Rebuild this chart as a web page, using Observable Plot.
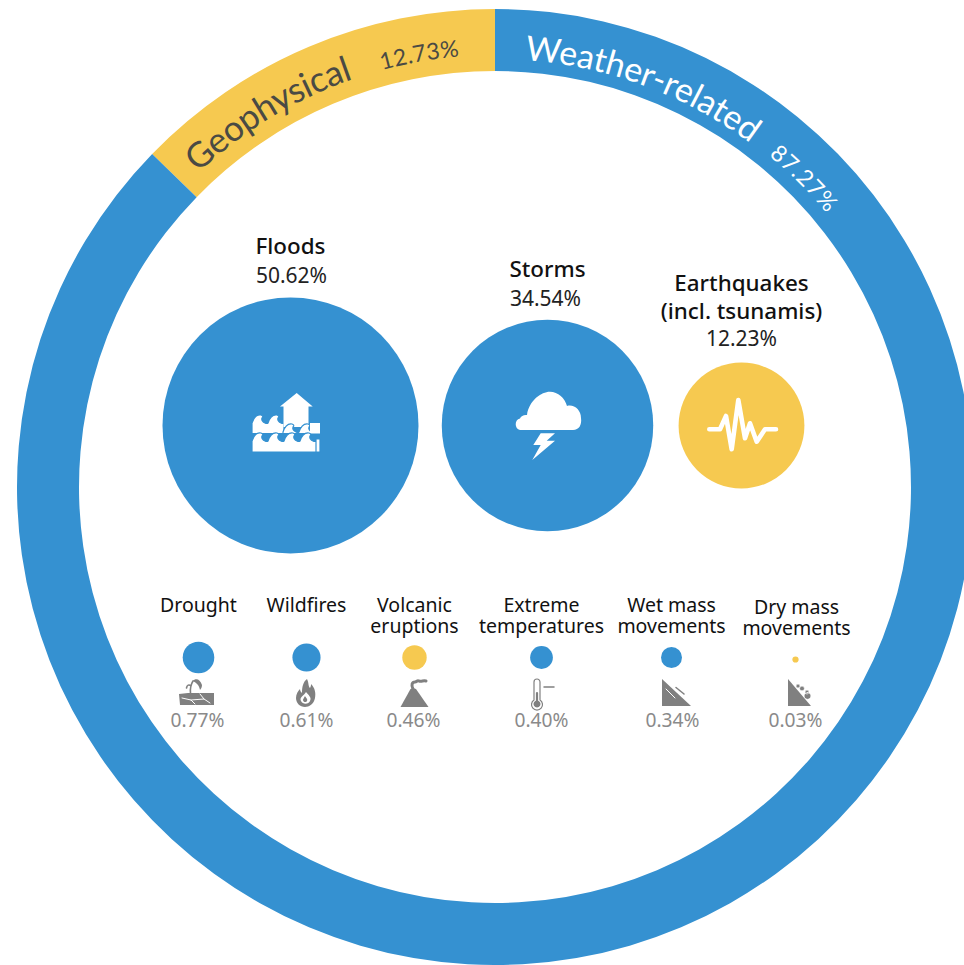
<!DOCTYPE html>
<html>
<head>
<meta charset="utf-8">
<style>html,body{margin:0;padding:0;background:#fff;overflow:hidden}svg{display:block}</style>
<script src="https://cdn.jsdelivr.net/npm/d3@7"></script>
<script src="https://cdn.jsdelivr.net/npm/@observablehq/plot@0.6"></script>
</head>
<body>
<div id="chart"></div>
<script>
// ---- data ----
const groups = ["Geophysical", "Weather-related"];
const groupShares = [12.73, 87.27];
const hazards = ["Floods","Storms","Earthquakes","Drought","Wildfires","Volcanic","Extreme","WetMass","DryMass"];
const hazardLabels = ["Floods","Storms","Earthquakes\n(incl. tsunamis)","Drought","Wildfires","Volcanic\neruptions","Extreme\ntemperatures","Wet mass\nmovements","Dry mass\nmovements"];
const hazardShares = [50.62, 34.54, 12.23, 0.77, 0.61, 0.46, 0.40, 0.34, 0.03];
const hazardGroups = ["Weather-related","Weather-related","Geophysical","Weather-related","Weather-related","Geophysical","Weather-related","Weather-related","Geophysical"];
const rows = hazards.map((id, i) => ({id, label: hazardLabels[i], share: hazardShares[i], group: hazardGroups[i], pct: hazardShares[i].toFixed(2) + "%", major: i < 3}));

// ---- layout (page positions for each hazard) ----
const colX   = d3.scaleOrdinal(hazards, [290, 547, 741, 198, 306, 414, 541, 671, 795]);
const dotY   = d3.scaleOrdinal(hazards, [425, 425, 425, 657, 657, 657, 657, 657, 659]);
const labelY = d3.scaleOrdinal(hazards, [244.5, 268, 296, 604.5, 604.5, 615, 615, 615, 617]);
const labelX = d3.scaleOrdinal(hazards, [290, 547, 741, 198, 306, 414, 541, 671, 796]);
const pctY   = d3.scaleOrdinal(hazards, [276, 299, 339, 720, 720, 720, 720, 720, 720]);
const pctX   = d3.scaleOrdinal(hazards, [291, 545, 741, 197, 306, 413, 541, 672, 795]);
const center = {x: 495, y: 487, inner: 416, outer: 478};
const colors = ["#f6c950", "#3591d1"];
const sans = "'Noto Sans', sans-serif";
const ringFont = "Lato, sans-serif";

// ---- icon glyphs, in local pixels around the hazard's column ----
function waves(x0, y0, n, bottom) {
  let p = `M${x0},${bottom}V${y0 + 4}`;
  for (let i = 0; i < n; i++) p += "q3,-9 9,-8 q3,1 1,3 q-1,3 3,5 q2,1 3,0";
  return p + `V${bottom}Z`;
}
const iconPaths = {
  Floods: [
    {d: waves(-38, -6, 2, 8.5), fill: "#fff", stroke: "#3591d1", sw: 1.2},
    {d: "M6.7,-32L22.7,-18.5H18.5V2H-6.5V-18.5H-10Z", fill: "#fff"},
    {d: waves(-7, 3, 2, 8.5), fill: "#fff", stroke: "#3591d1", sw: 1.2},
    {d: "M20,-2H30V8.5H20Z", fill: "#fff"},
    {d: waves(-38, 12, 4, 27) + "M26,14H30V27H26Z", fill: "#fff", stroke: "#3591d1", sw: 1.2}
  ],
  Storms: [
    {d: "M-27,5A6,6 0 0 1 -27,-6.5C-26,-9 -23,-10.5 -20,-10C-18,-25 -5,-33.5 3,-33.3C11,-33 18,-27 20,-19C27,-21 34,-15 34,-7C35,0 32,5 26,5Z", fill: "#fff"},
    {d: "M-6.3,8.3H8L-0.3,15.7H8L-14.7,35L-6.3,20H-13.7Z", fill: "#fff"}
  ],
  Earthquakes: [
    {d: "M-31.7,4.3H-21L-15,-9L-9.3,24.3L-2.7,-25L4,13.3L9,-1.7L15.7,16.7L24,4.3H35", stroke: "#fff", sw: 4.6, fill: "none"}
  ],
  Drought: [
    {d: "M-18,-1L-9,-2H17V10H-17Z", fill: "#808080"},
    {d: "M-15,3L-6,5L-2,9M-6,5L7,4L13,8M3,-1L7,4", stroke: "#fff", sw: 1, fill: "none"},
    {d: "M-6.5,-2C-7,-7 -6.5,-10 -4,-14M-6,-9C-8,-11 -10,-10 -10.5,-7", stroke: "#808080", sw: 1.6, fill: "none"},
    {d: "M-4.5,-14C-1,-17 3,-16 5,-10C5,-8 4,-6 3,-5C2,-10 0,-12 -4.5,-14Z", fill: "#808080"}
  ],
  Wildfires: [
    {d: "M1,-16C3,-12 2,-9 4,-7C5,-9 5,-10 5,-11C9,-7 10,-2 9,3C8,9 3,12 -1,12C-6,12 -10,8 -10,3C-10,-1 -8,-4 -6,-6C-6,-4 -5,-3 -4,-2C-4,-8 -3,-13 1,-16Z", fill: "#808080"},
    {d: "M0,-3C2,0 6,2 4,6C3,9 -3,10 -5,6C-7,2 -2,1 0,-3Z", fill: "#fff"},
    {d: "M-1,1C0,3 2,4 1,6C0,8 -3,7 -3,5C-3,4 -2,3 -1,1Z", fill: "#808080"}
  ],
  Volcanic: [
    {d: "M-13.5,12L-3.5,-6L-1,-7L2,-6L14.5,12Z", fill: "#808080"},
    {d: "M-1,-6C-3,-10 -2,-13 1,-13C3,-13 3,-15 5,-14C8,-13 9,-15 12,-14", stroke: "#808080", sw: 3, fill: "none"}
  ],
  Extreme: [
    {d: "M-7,5V-13A3,3 0 0 1 -1,-13V5A5.5,5.5 0 1 1 -7,5Z", fill: "#fff", stroke: "#808080", sw: 1.2},
    {d: "M-4,-2V8", stroke: "#808080", sw: 2.2, fill: "none"},
    {d: "M-4,5.5a3.5,3.5 0 1 0 0.01,0Z", fill: "#808080"},
    {d: "M3,-8H13", stroke: "#808080", sw: 1.5, fill: "none"}
  ],
  WetMass: [
    {d: "M-9,-16L20,11H-9Z", fill: "#808080"},
    {d: "M-5,-6L4,3", stroke: "#fff", sw: 1, fill: "none"},
    {d: "M5,-7.5L13,-1", stroke: "#808080", sw: 1.5, fill: "none"}
  ],
  DryMass: [
    {d: "M-7,-16L16,11H-7Z", fill: "#808080"},
    {d: "M3,-11a2,2 0 1 0 0.01,0ZM7,-9a2.4,2.4 0 1 0 0.01,0ZM12,-5a2,2 0 1 0 0.01,0ZM12.5,-2.5a3.4,3.4 0 1 0 0.01,0Z", fill: "#808080", stroke: "#fff", sw: 0.6}
  ]
};
const iconY = d3.scaleOrdinal(hazards, [425, 425, 425, 695, 695, 695, 695, 695, 695]);
const iconX = d3.scaleOrdinal(hazards, [290, 547, 741, 197, 306, 414, 541, 671, 795]);

// ---- ring labels along the band: angle in degrees clockwise from the top ----
const ringLabels = [
  {text: "Geophysical", angle: -43.4, r: 432, size: 35, fill: "#4a4a44", span: 24.2},
  {text: "12.73%", angle: -15.2, r: 432, size: 23, fill: "#4a4a44", span: 10.4},
  {text: "Weather-related", angle: 4, r: 428, size: 34, fill: "#fff", span: 32.6},
  {text: "87.27%", angle: 39.5, r: 430, size: 23, fill: "#fff", span: 10.9}
];

function ringMark(index, scales) {
  const g = d3.create("svg:g").attr("transform", `translate(${scales.x(center.x)},${scales.y(center.y)})`);
  const start = -2 * Math.PI * groupShares[0] / 100;
  const pie = d3.pie().sort(null).startAngle(start).endAngle(start + 2 * Math.PI)(groupShares);
  const arc = d3.arc().innerRadius(center.inner).outerRadius(center.outer);
  g.selectAll("path.band").data(pie).join("path").attr("class", "band")
    .attr("d", arc).attr("fill", (d, i) => scales.color(groups[i]));
  ringLabels.forEach((l, i) => {
    const id = "ring-path-" + i;
    g.append("path").attr("id", id).attr("fill", "none")
      .attr("d", `M0,${l.r}A${l.r},${l.r} 0 1 1 0,${-l.r}A${l.r},${l.r} 0 1 1 0,${l.r}`);
    const text = g.append("text").attr("font-family", ringFont).attr("font-size", l.size)
      .attr("fill", l.fill).attr("font-weight", 400)
      .attr("text-anchor", "start");
    text.append("textPath").attr("href", "#" + id)
      .attr("startOffset", ((l.angle + 180) / 360) * 2 * Math.PI * l.r)
      .attr("textLength", (l.span / 360) * 2 * Math.PI * l.r)
      .attr("lengthAdjust", "spacing")
      .text(l.text);
  });
  return g.node();
}

function iconMark(index, scales) {
  const g = d3.create("svg:g");
  for (const id of hazards) {
    const icon = g.append("g").attr("transform", `translate(${scales.x(iconX(id))},${scales.y(iconY(id))})`);
    for (const s of iconPaths[id]) {
      icon.append("path").attr("d", s.d).attr("fill", s.fill)
        .attr("stroke", s.stroke || "none").attr("stroke-width", s.sw || 0)
        .attr("stroke-linejoin", "round").attr("stroke-linecap", "round");
    }
  }
  return g.node();
}

const majors = rows.filter(d => d.major);
const minors = rows.filter(d => !d.major);

const chart = Plot.plot({
  width: 964, height: 965, margin: 0,
  style: {background: "#fff", overflow: "hidden"},
  x: {domain: [0, 964], range: [0, 964], axis: null},
  y: {domain: [0, 965], range: [0, 965], axis: null},
  r: {type: "sqrt", domain: [0, 50.62], range: [0, 128]},
  color: {domain: groups, range: colors},
  marks: [
    ringMark,
    Plot.dot(rows, {x: d => colX(d.id), y: d => dotY(d.id), r: "share", fill: "group"}),
    iconMark,
    Plot.text(majors, {x: d => labelX(d.id), y: d => labelY(d.id), text: "label", fontSize: 22.4, fontWeight: 500, lineHeight: 28 / 22.4, fill: "#111", fontFamily: sans}),
    Plot.text(majors, {x: d => pctX(d.id), y: d => pctY(d.id), text: "pct", fontSize: 21, fill: "#222", fontFamily: sans}),
    Plot.text(minors, {x: d => labelX(d.id), y: d => labelY(d.id), text: "label", fontSize: 19.5, lineHeight: 21 / 19.5, fill: "#111", fontFamily: sans}),
    Plot.text(minors, {x: d => pctX(d.id), y: d => pctY(d.id), text: "pct", fontSize: 19.2, fill: "#8a8a8a", fontFamily: sans})
  ]
});
document.getElementById("chart").append(chart);
</script>
</body>
</html>
